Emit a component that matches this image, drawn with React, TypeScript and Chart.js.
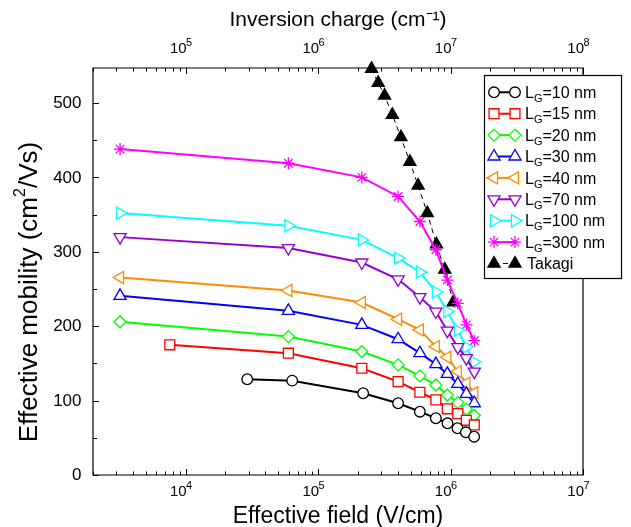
import React, { useEffect, useRef } from 'react';
import { Chart, registerables } from 'chart.js';
import { drawPoint } from 'chart.js/helpers';

Chart.register(...registerables);

const FONT = '"Liberation Sans", Arial, Helvetica, sans-serif';

// ---- data (effective field in V/cm, mobility in cm^2/Vs) ----
const fieldCommon = [3200, 59700, 214000, 402000, 587000, 775000, 946000, 1135000, 1316000, 1512000];
const field10 = [29200, 63800, 219000, 402000, 587000, 775000, 949000, 1129000, 1305000, 1507000];
const field15 = [7600, 59700, 214000, 402000, 587000, 775000, 946000, 1135000, 1316000, 1512000];
const fieldTakagi = [253500, 284300, 317700, 363800, 421900, 493200, 569000, 668000, 783000, 905000, 1047000];

const mob10 = [128.7, 126.8, 109.9, 96.4, 85.1, 76.3, 69.5, 62.8, 57.4, 51.5];
const mob15 = [175, 163.7, 143.5, 125.5, 111.2, 100.9, 89, 82.5, 73.5, 67.3];
const mob20 = [206, 186, 165.9, 148, 133.2, 121, 107.5, 97.3, 88.5, 80];
const mob30 = [240.8, 220.6, 201.8, 182.5, 163.7, 149, 135.9, 122.4, 109, 96.4];
const mob40 = [265.4, 248, 231.8, 209.4, 195, 172.6, 158.3, 139, 123.3, 110.7];
const mob70 = [319.7, 305, 285.6, 263, 239, 219.7, 194, 171.8, 157, 139];
const mob100 = [352, 335, 316, 291.5, 272.7, 246, 219.7, 194.5, 172, 152];
const mob300 = [438, 419, 400, 374.4, 340.7, 302.7, 262, 230.6, 201.8, 180.5];
const mobTakagi = [546, 527, 510, 484, 454, 421, 389, 352, 310, 276, 232];

const gateLengths = ['10 nm', '15 nm', '20 nm', '30 nm', '40 nm', '70 nm', '100 nm', '300 nm'];
const takagiLabel = 'Takagi';

// axis ranges / ticks
const fieldMin = 2000;
const fieldMax = 1e7;
const chargeMin = 20000;
const chargeMax = 1e8;
const mobMax = 547;
const mobTickValues = [0, 50, 100, 150, 200, 250, 300, 350, 400, 450, 500];
const fieldDecades = [1e3, 1e4, 1e5, 1e6];
const chargeDecades = [1e4, 1e5, 1e6, 1e7];

const xTitle = 'Effective field (V/cm)';
const x2Title = 'Inversion charge (cm⁻¹)';
const yTitleMain = 'Effective mobility (cm';
const yTitleSup = '2';
const yTitleEnd = '/Vs)';

function logTicks(decades: number[], min: number, max: number) {
  const out: number[] = [];
  for (const d of decades) {
    for (let m = 1; m <= 9; m++) {
      const v = d * m;
      if (v >= min - 1e-9 && v <= max + 1e-9) out.push(v);
    }
  }
  if (!out.includes(max)) out.push(max);
  return out;
}
const fieldTicks = logTicks(fieldDecades, fieldMin, fieldMax);
const chargeTicks = logTicks(chargeDecades, chargeMin, chargeMax);

function isPow10(v: number) {
  const e = Math.round(Math.log10(v));
  return Math.abs(v - Math.pow(10, e)) < 1e-6 * v;
}

type Spec = { color: string; style: string; rot: number; r: number; fill: string; dash?: number[]; lw: number };
const specs: Spec[] = [
  { color: '#000000', style: 'circle', rot: 0, r: 5.3, fill: '#ffffff', lw: 2 },
  { color: '#ff0000', style: 'rect', rot: 0, r: 7, fill: '#ffffff', lw: 2 },
  { color: '#00ff00', style: 'rectRot', rot: 0, r: 6, fill: '#ffffff', lw: 2 },
  { color: '#0000ff', style: 'triangle', rot: 0, r: 7, fill: '#ffffff', lw: 2 },
  { color: '#ff8c00', style: 'triangle', rot: -90, r: 7, fill: '#ffffff', lw: 2 },
  { color: '#9400d3', style: 'triangle', rot: 180, r: 7, fill: '#ffffff', lw: 2 },
  { color: '#00ffff', style: 'triangle', rot: 90, r: 7, fill: '#ffffff', lw: 2 },
  { color: '#ff00ff', style: 'star', rot: 0, r: 6, fill: '#ffffff', lw: 2 },
  { color: '#000000', style: 'triangle', rot: 0, r: 7, fill: '#000000', lw: 1, dash: [5, 4] },
];

const seriesFields = [field10, field15, fieldCommon, fieldCommon, fieldCommon, fieldCommon, fieldCommon, fieldCommon, fieldTakagi];
const seriesMob = [mob10, mob15, mob20, mob30, mob40, mob70, mob100, mob300, mobTakagi];
const seriesLabels = [...gateLengths.map((g) => 'LG=' + g), takagiLabel];

function drawPowLabel(ctx: CanvasRenderingContext2D, v: number, tickX: number, baseline: number) {
  const e = String(Math.round(Math.log10(v)));
  ctx.fillStyle = '#000';
  ctx.textBaseline = 'alphabetic';
  ctx.font = `15px ${FONT}`;
  ctx.textAlign = 'right';
  ctx.fillText('10', tickX + 1, baseline);
  ctx.font = `11px ${FONT}`;
  ctx.textAlign = 'left';
  ctx.fillText(e, tickX + 0.5, baseline - 7);
}

const frameTicksPlugin = {
  id: 'frameTicks',
  beforeDatasetsDraw(chart: any) {
    const { ctx, chartArea: a, scales } = chart;
    ctx.save();
    ctx.strokeStyle = '#000';
    ctx.lineWidth = 1.2;
    ctx.beginPath();
    ctx.rect(a.left, a.top, a.right - a.left, a.bottom - a.top);
    ctx.stroke();
    ctx.lineWidth = 1;
    ctx.beginPath();
    for (const v of fieldTicks) {
      const px = Math.round(scales.x.getPixelForValue(v)) + 0.5;
      const len = isPow10(v) ? 6 : 3.5;
      ctx.moveTo(px, a.bottom);
      ctx.lineTo(px, a.bottom - len);
    }
    for (const v of chargeTicks) {
      const px = Math.round(scales.x2.getPixelForValue(v)) + 0.5;
      const len = isPow10(v) ? 6 : 3.5;
      ctx.moveTo(px, a.top);
      ctx.lineTo(px, a.top + len);
    }
    for (const v of mobTickValues) {
      const py = Math.round(scales.y.getPixelForValue(v)) + 0.5;
      const len = v % 100 === 0 ? 6 : 4;
      ctx.moveTo(a.left, py);
      ctx.lineTo(a.left + len, py);
    }
    ctx.stroke();
    ctx.restore();
  },
  afterDraw(chart: any) {
    const { ctx, chartArea: a, scales } = chart;
    ctx.save();
    // bottom labels
    for (const v of fieldTicks) {
      if (!isPow10(v)) continue;
      drawPowLabel(ctx, v, scales.x.getPixelForValue(v), a.bottom + 21);
    }
    for (const v of chargeTicks) {
      if (!isPow10(v)) continue;
      drawPowLabel(ctx, v, scales.x2.getPixelForValue(v), a.top - 15.5);
    }
    // y labels
    ctx.font = `17px ${FONT}`;
    ctx.textAlign = 'right';
    ctx.textBaseline = 'middle';
    ctx.fillStyle = '#000';
    for (const v of mobTickValues) {
      if (v % 100 !== 0) continue;
      ctx.fillText(String(v), a.left - 11.5, scales.y.getPixelForValue(v) + 0.5);
    }
    // y title with superscript
    ctx.translate(30, 292);
    ctx.rotate(-Math.PI / 2);
    ctx.textBaseline = 'middle';
    ctx.textAlign = 'left';
    ctx.font = `26px ${FONT}`;
    const w1 = ctx.measureText(yTitleMain).width;
    const w3 = ctx.measureText(yTitleEnd).width;
    ctx.font = `16px ${FONT}`;
    const w2 = ctx.measureText(yTitleSup).width;
    let tx = -(w1 + w2 + w3) / 2;
    ctx.font = `26px ${FONT}`;
    ctx.fillText(yTitleMain, tx, 0);
    tx += w1;
    ctx.font = `16px ${FONT}`;
    ctx.fillText(yTitleSup, tx, -9);
    tx += w2;
    ctx.font = `26px ${FONT}`;
    ctx.fillText(yTitleEnd, tx, 0);
    ctx.restore();
  },
};

const legendPlugin = {
  id: 'customLegend',
  afterDraw(chart: any) {
    const { ctx } = chart;
    const bx = 484, by = 75, bw = 137, bh = 203;
    ctx.save();
    ctx.fillStyle = '#ffffff';
    ctx.fillRect(bx, by, bw, bh);
    ctx.strokeStyle = '#000';
    ctx.lineWidth = 1.2;
    ctx.strokeRect(bx + 0.5, by + 0.5, bw, bh);
    const rowH = 21.4;
    for (let i = 0; i < specs.length; i++) {
      const s = specs[i];
      const cy = 92.3 + i * rowH;
      const x1 = 494, x2 = 515;
      ctx.strokeStyle = s.color;
      ctx.lineWidth = s.lw;
      ctx.setLineDash(s.dash || []);
      ctx.beginPath();
      ctx.moveTo(x1, cy);
      ctx.lineTo(x2, cy);
      ctx.stroke();
      ctx.setLineDash([]);
      for (const px of [x1, x2]) {
        ctx.fillStyle = s.fill;
        ctx.strokeStyle = s.color;
        ctx.lineWidth = 1.3;
        drawPoint(ctx, { pointStyle: s.style as any, rotation: s.rot, radius: s.r, borderWidth: 1.3 }, px, cy);
      }
      ctx.fillStyle = '#000';
      ctx.textBaseline = 'alphabetic';
      ctx.textAlign = 'left';
      const base = cy + 5.7;
      let tx = 525;
      if (i < gateLengths.length) {
        ctx.font = `16px ${FONT}`;
        ctx.fillText('L', tx, base);
        tx += ctx.measureText('L').width;
        ctx.font = `11px ${FONT}`;
        ctx.fillText('G', tx, base + 4);
        tx += ctx.measureText('G').width;
        ctx.font = `16px ${FONT}`;
        ctx.fillText('=' + gateLengths[i], tx, base);
      } else {
        ctx.font = `16px ${FONT}`;
        ctx.fillText(takagiLabel, 527, base);
      }
    }
    ctx.restore();
  },
};

export default function App() {
  const ref = useRef<HTMLCanvasElement | null>(null);
  useEffect(() => {
    if (!ref.current) return;
    const datasets = specs.map((s, i) => ({
      label: seriesLabels[i],
      data: seriesFields[i].map((x, j) => ({ x, y: seriesMob[i][j] })),
      borderColor: s.color,
      backgroundColor: s.fill,
      borderWidth: s.lw,
      borderDash: s.dash || [],
      pointStyle: s.style,
      pointRotation: s.rot,
      pointRadius: s.r,
      pointBorderWidth: 1.3,
      pointBackgroundColor: s.fill,
      pointBorderColor: s.color,
      tension: 0,
      clip: i === specs.length - 1 ? false : undefined,
      xAxisID: 'x',
      yAxisID: 'y',
    }));
    const chart = new Chart(ref.current, {
      type: 'line',
      data: { datasets: datasets as any },
      plugins: [frameTicksPlugin, legendPlugin],
      options: {
        animation: false,
        responsive: false,
        maintainAspectRatio: false,
        layout: { padding: { left: 0, right: 48, top: 0, bottom: 0 } },
        plugins: { legend: { display: false }, tooltip: { enabled: false } },
        scales: {
          x: {
            type: 'logarithmic',
            position: 'bottom',
            min: fieldMin,
            max: fieldMax,
            afterBuildTicks: (s: any) => { s.ticks = fieldTicks.map((v) => ({ value: v })); },
            afterFit: (s: any) => { s.height = 52; },
            grid: { display: false },
            border: { display: false },
            ticks: { display: false },
            title: { display: true, text: xTitle, color: '#000', font: { size: 23, family: FONT, lineHeight: 0.8 }, padding: { top: 0, bottom: 0.7 } },
          },
          x2: {
            type: 'logarithmic',
            position: 'top',
            min: chargeMin,
            max: chargeMax,
            afterBuildTicks: (s: any) => { s.ticks = chargeTicks.map((v) => ({ value: v })); },
            afterFit: (s: any) => { s.height = 68; },
            grid: { display: false },
            border: { display: false },
            ticks: { display: false },
            title: { display: true, text: x2Title, color: '#000', font: { size: 21, family: FONT, lineHeight: 1.2 }, padding: { top: 7.5, bottom: 0 } },
          },
          y: {
            type: 'linear',
            position: 'left',
            min: 0,
            max: mobMax,
            afterBuildTicks: (s: any) => { s.ticks = mobTickValues.map((v) => ({ value: v })); },
            afterFit: (s: any) => { s.width = 93; },
            grid: { display: false },
            border: { display: false },
            ticks: { display: false },
          },
        },
      } as any,
    });
    return () => chart.destroy();
  }, []);
  return (
    <div style={{ position: 'absolute', left: 0, top: 0, width: 631, height: 527, background: '#fff' }}>
      <canvas ref={ref} width={631} height={527} style={{ display: 'block' }} />
    </div>
  );
}
